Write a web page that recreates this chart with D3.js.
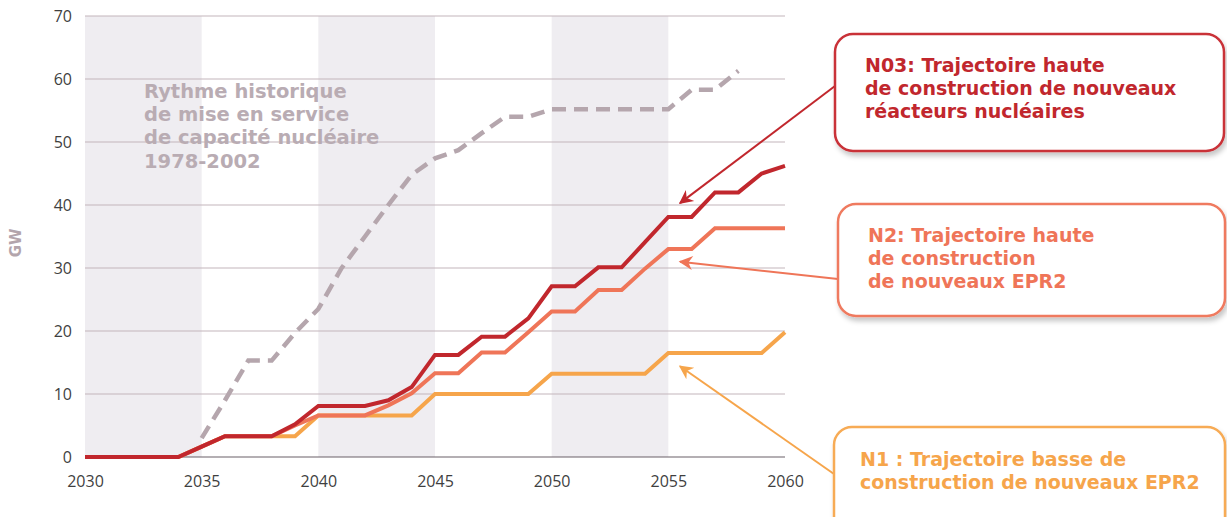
<!DOCTYPE html>
<html>
<head>
<meta charset="utf-8">
<script src="https://cdn.jsdelivr.net/npm/d3@7"></script>
<style>
  body { margin: 0; background: #fff; }
  svg { display: block; }
</style>
</head>
<body>
<script>
// years and series (GW)
const years = d3.range(2030, 2061);
const n03 = [0, 0, 0, 0, 0, 1.65, 3.3, 3.3, 3.3, 5.2, 8.1, 8.1, 8.1, 9, 11.1, 16.2, 16.2, 19.1, 19.1, 22, 27.1, 27.1, 30.1, 30.1, 34.1, 38.1, 38.1, 42, 42, 45, 46.2];
const n2  = [0, 0, 0, 0, 0, 1.65, 3.3, 3.3, 3.3, 5, 6.6, 6.6, 6.6, 8.2, 10.1, 13.3, 13.3, 16.6, 16.6, 19.8, 23.1, 23.1, 26.5, 26.5, 29.9, 33, 33, 36.3, 36.3, 36.3, 36.3];
const n1  = [0, 0, 0, 0, 0, 1.65, 3.3, 3.3, 3.3, 3.3, 6.6, 6.6, 6.6, 6.6, 6.6, 10, 10, 10, 10, 10, 13.2, 13.2, 13.2, 13.2, 13.2, 16.5, 16.5, 16.5, 16.5, 16.5, 19.8];
// historic pace 1978-2002, shifted onto 2035-2058
const histYears = d3.range(2035, 2059);
const hist = [3, 9, 15.3, 15.3, 19.7, 23.5, 30, 35, 40, 44.8, 47.4, 48.7, 51.4, 54, 54, 55.2, 55.2, 55.2, 55.2, 55.2, 55.2, 58.3, 58.3, 61.3];

const xTicks = [2030, 2035, 2040, 2045, 2050, 2055, 2060];
const yTicks = [0, 10, 20, 30, 40, 50, 60, 70];
const bands = [[2030, 2035], [2040, 2045], [2050, 2055]];

// callouts: text lines, anchor (year, GW) the arrow points to
const callouts = [
  {lines: ["N03: Trajectoire haute", "de construction de nouveaux", "réacteurs nucléaires"], color: "#c1272d", box: "#c93037",
   box0: [835, 34, 389, 117], tx: 865, ty: 72, from: [835, 86], at: [2055.5, 40.3]},
  {lines: ["N2: Trajectoire haute", "de construction", "de nouveaux EPR2"], color: "#ef7558", box: "#ef7a5f",
   box0: [838, 204, 387, 112], tx: 868, ty: 242, from: [838, 279], at: [2055.5, 31]},
  {lines: ["N1 : Trajectoire basse de", "construction de nouveaux EPR2"], color: "#f6a54b", box: "#f7ab55",
   box0: [834, 427, 391, 110], tx: 860, ty: 466, from: [834, 474], at: [2055.5, 14.4]}
];

const W = 1227, H = 517,
      margin = {top: 16, right: 442, bottom: 60, left: 85};

const x = d3.scaleLinear().domain([2030, 2060]).range([margin.left, W - margin.right]),
      y = d3.scaleLinear().domain([0, 70]).range([H - margin.bottom, margin.top]);

const svg = d3.select("body").append("svg")
    .attr("width", W)
    .attr("height", H);

const defs = svg.append("defs");
const f = defs.append("filter").attr("id", "shadow")
    .attr("x", "-10%").attr("y", "-10%").attr("width", "130%").attr("height", "140%");
f.append("feDropShadow").attr("dx", 2).attr("dy", 4).attr("stdDeviation", 2.5)
    .attr("flood-color", "#000").attr("flood-opacity", 0.22);

// arrowheads
callouts.forEach((c, i) => {
  defs.append("marker")
      .attr("id", "arr" + i)
      .attr("viewBox", "0 0 10 10")
      .attr("refX", 9).attr("refY", 5)
      .attr("markerWidth", 18).attr("markerHeight", 14)
      .attr("markerUnits", "userSpaceOnUse")
      .attr("orient", "auto")
    .append("path")
      .attr("d", "M0,0 L10,5 L0,10 L3,5 Z")
      .attr("fill", c.color);
});

// shaded bands
svg.append("g").selectAll("rect")
  .data(bands)
  .join("rect")
    .attr("x", d => x(d[0]))
    .attr("y", y(70))
    .attr("width", d => x(d[1]) - x(d[0]))
    .attr("height", y(0) - y(70))
    .attr("fill", "#efedf1");

// gridlines
svg.append("g").selectAll("line")
  .data(yTicks.filter(d => d > 0))
  .join("line")
    .attr("x1", x(2030)).attr("x2", x(2060))
    .attr("y1", d => y(d)).attr("y2", d => y(d))
    .attr("stroke", "#c4b5bc")
    .attr("stroke-width", 1.2);

svg.append("line")
    .attr("x1", x(2030)).attr("x2", x(2060))
    .attr("y1", y(0)).attr("y2", y(0))
    .attr("stroke", "#6b6168")
    .attr("stroke-width", 1.2);

// axes
const xAxis = svg.append("g")
    .attr("transform", "translate(0," + y(0) + ")")
    .call(d3.axisBottom(x).tickValues(xTicks).tickFormat(d3.format("d")).tickSize(0).tickPadding(19));
const yAxis = svg.append("g")
    .attr("transform", "translate(" + (x(2030) - 13) + ",0)")
    .call(d3.axisLeft(y).tickValues(yTicks).tickSize(0).tickPadding(0));
[xAxis, yAxis].forEach(a => {
  a.select(".domain").remove();
  a.selectAll("text")
    .attr("font-family", "'Open Sans', sans-serif")
    .attr("font-size", 16)
    .attr("fill", "#3f3f3f");
});
xAxis.selectAll("text").attr("dy", "0.71em");

svg.append("text")
    .attr("transform", "translate(21," + y(34) + ") rotate(-90)")
    .attr("text-anchor", "middle")
    .attr("font-family", "'DejaVu Sans', sans-serif")
    .attr("font-weight", "bold")
    .attr("font-size", 15)
    .attr("fill", "#b3a5ac")
    .text("GW");

// historic label
const histLabel = ["Rythme historique", "de mise en service", "de capacité nucléaire", "1978-2002"];
svg.append("text")
    .attr("font-family", "'DejaVu Sans', sans-serif")
    .attr("font-weight", "bold")
    .attr("font-size", 19.5)
    .attr("fill", "#b9acb3")
  .selectAll("tspan")
  .data(histLabel)
  .join("tspan")
    .attr("x", 144)
    .attr("y", (d, i) => 98 + i * 23.2)
    .text(d => d);

// lines
const line = d3.line().x(d => x(d[0])).y(d => y(d[1]));

svg.append("path")
    .datum(d3.zip(histYears, hist))
    .attr("fill", "none")
    .attr("stroke", "#b5a6ad")
    .attr("stroke-width", 4.5)
    .attr("stroke-dasharray", "14,8")
    .attr("d", line);

const series = [
  {vals: n1, color: "#f6a54b"},
  {vals: n2, color: "#ef7558"},
  {vals: n03, color: "#c1272d"}
];
svg.append("g").selectAll("path")
  .data(series)
  .join("path")
    .attr("fill", "none")
    .attr("stroke", d => d.color)
    .attr("stroke-width", 4)
    .attr("stroke-linejoin", "miter")
    .attr("d", d => line(d3.zip(years, d.vals)));

// callouts
callouts.forEach((c, i) => {
  svg.append("line")
      .attr("x1", c.from[0]).attr("y1", c.from[1])
      .attr("x2", x(c.at[0])).attr("y2", y(c.at[1]))
      .attr("stroke", c.color)
      .attr("stroke-width", 2)
      .attr("marker-end", "url(#arr" + i + ")");
  const [bx, by, bw, bh] = c.box0;
  svg.append("rect")
      .attr("x", bx).attr("y", by)
      .attr("width", bw).attr("height", bh)
      .attr("rx", 18).attr("ry", 18)
      .attr("fill", "#fff")
      .attr("stroke", c.box)
      .attr("stroke-width", 2.5)
      .attr("filter", "url(#shadow)");
  svg.append("text")
      .attr("font-family", "'DejaVu Sans', sans-serif")
      .attr("font-weight", "bold")
      .attr("font-size", 19)
      .attr("fill", c.color)
    .selectAll("tspan")
    .data(c.lines)
    .join("tspan")
      .attr("x", c.tx)
      .attr("y", (d, j) => c.ty + j * 23)
      .text(d => d);
});
</script>
</body>
</html>
